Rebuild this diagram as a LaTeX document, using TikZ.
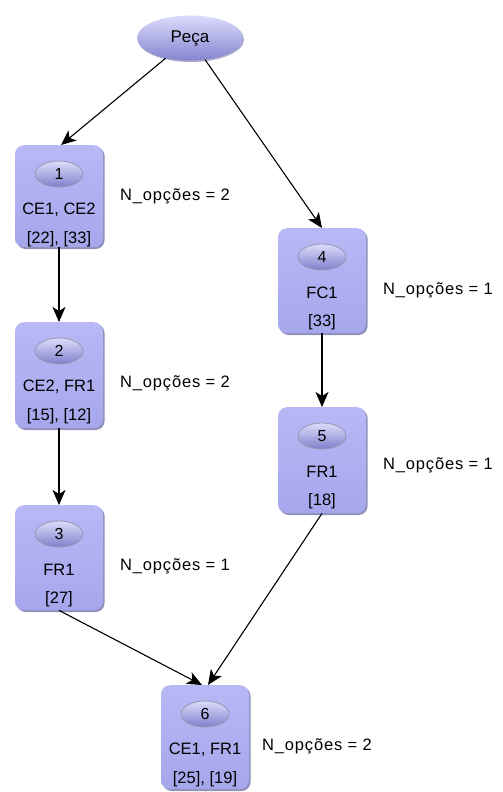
\documentclass[tikz,border=0pt]{standalone}
\usepackage{fontspec}
\setmainfont{Liberation Sans}
\usetikzlibrary{shapes.geometric,arrows.meta,shadows}

\definecolor{lavtop}{RGB}{184,184,246}
\definecolor{lavbot}{RGB}{166,166,236}
\definecolor{lavshadow}{RGB}{132,132,180}
\definecolor{balltop}{RGB}{220,220,252}
\definecolor{ballmid}{RGB}{178,178,238}
\definecolor{ballbot}{RGB}{128,128,204}
\definecolor{ballrim}{RGB}{150,150,178}

\tikzset{
  etapabox/.style={rectangle, rounded corners=9pt, minimum width=88pt,
    top color=lavtop, bottom color=lavbot, draw=none,
    drop shadow={shadow xshift=1.6pt, shadow yshift=-1.8pt, fill=lavshadow, opacity=0.9}},
  numbola/.style={ellipse, minimum width=48pt, minimum height=26pt, inner sep=0pt,
    top color=balltop, middle color=ballmid, bottom color=ballbot,
    draw=ballrim, line width=0.8pt,
    font=\fontsize{16}{18}\selectfont},
  etapatxt/.style={inner sep=0pt, font=\fontsize{16.5}{19}\selectfont},
  peca/.style={ellipse, minimum width=106pt, minimum height=45pt, inner sep=0pt,
    top color=balltop, bottom color=ballbot!90!lavbot, draw=none,
    drop shadow={shadow xshift=1pt, shadow yshift=-1.5pt, fill=lavshadow, opacity=0.7},
    font=\fontsize{17}{20}\selectfont},
  nopc/.style={anchor=west, inner sep=0pt,
    font=\fontsize{16.5}{19}\selectfont\addfontfeatures{LetterSpace=5}},
  seta/.style={-{Stealth[length=15pt,width=13pt,inset=4pt]}, line width=1.1pt, black},
}

% \etapa{name}{x}{top y}{height}{number}{first line}{second line}
\newcommand\etapa[7]{%
  \node[etapabox, minimum height=#4pt, anchor=north] (#1) at (#2,#3) {};
  \node[numbola] (#1n) at ([yshift=-29pt]#1.north) {#5};
  \node[etapatxt] (#1a) at ([yshift=-65pt]#1.north) {#6};
  \node[etapatxt] (#1b) at ([yshift=-94pt]#1.north) {#7};
}

\begin{document}
\begin{tikzpicture}[x=1pt, y=-1pt]
  \useasboundingbox (0,0) rectangle (503,792);

  \node[peca] (pc) at (190,38) {Peça};

  \etapa{b1}{59}{145}{102}{1}{CE1, CE2}{[22], [33]}
  \etapa{b2}{59}{322}{106}{2}{CE2, FR1}{[15], [12]}
  \etapa{b3}{59}{505}{105}{3}{FR1}{[27]}
  \etapa{b4}{322}{228}{105}{4}{FC1}{[33]}
  \etapa{b5}{322}{407}{106}{5}{FR1}{[18]}
  \etapa{b6}{205}{685}{104}{6}{CE1, FR1}{[25], [19]}

  \node[nopc] (n1) at (120,196) {N\_opções = 2};
  \node[nopc] (n2) at (120,383) {N\_opções = 2};
  \node[nopc] (n3) at (120,566) {N\_opções = 1};
  \node[nopc] (n4) at (383,290) {N\_opções = 1};
  \node[nopc] (n5) at (383,465) {N\_opções = 1};
  \node[nopc] (n6) at (262,746) {N\_opções = 2};

  \draw[seta] (pc) -- ([xshift=2pt]b1.north);
  \draw[seta] (pc) -- (b4.north);
  \draw[seta] (b1.south) -- (b2.north);
  \draw[seta] (b2.south) -- (b3.north);
  \draw[seta] (b4.south) -- (b5.north);
  \draw[seta] (b3.south) -- ([xshift=-3pt]b6.north);
  \draw[seta] (b5.south) -- ([xshift=3pt]b6.north);
\end{tikzpicture}
\end{document}
